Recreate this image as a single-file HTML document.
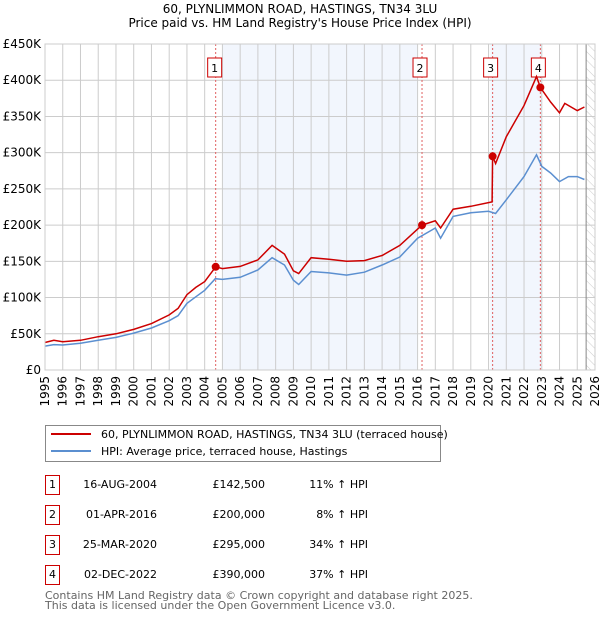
<!DOCTYPE html>
<html><head><meta charset="utf-8"><style>
body{margin:0;background:#fff;font-family:"DejaVu Sans","Liberation Sans",sans-serif;}
#wrap{position:relative;width:600px;height:620px;overflow:hidden}
.t{position:absolute;font-size:12px;color:#000;white-space:nowrap}
.box{position:absolute;width:13px;height:18px;border:1px solid #c00;font-size:11px;text-align:center;line-height:18px}
</style></head><body><div id="wrap">
<svg id="svg" width="600" height="620" style="position:absolute;left:0;top:0" font-family="DejaVu Sans, Liberation Sans, sans-serif"></svg>
<div class="t" style="left:0;width:600px;text-align:center;top:2px">60, PLYNLIMMON ROAD, HASTINGS, TN34 3LU<br>Price paid vs. HM Land Registry's House Price Index (HPI)</div>
<div style="position:absolute;left:45px;top:425px;width:394px;height:35px;border:1px solid #888">
 <div style="position:absolute;left:5px;top:7px;width:40px;height:2px;background:#c00"></div>
 <div class="t" style="left:55px;top:0px;font-size:11px;line-height:17px">60, PLYNLIMMON ROAD, HASTINGS, TN34 3LU (terraced house)</div>
 <div style="position:absolute;left:5px;top:24px;width:40px;height:2px;background:#5b8fd0"></div>
 <div class="t" style="left:55px;top:17px;font-size:11px;line-height:17px">HPI: Average price, terraced house, Hastings</div>
</div>
<div id="tbl"></div>
<div class="t" style="left:45px;top:591px;font-size:11px;color:#666;line-height:10px">Contains HM Land Registry data © Crown copyright and database right 2025.<br>This data is licensed under the Open Government Licence v3.0.</div>
</div>
<script>
const hpiYears=[1995,1995.5,1996,1997,1998,1999,2000,2001,2002,2002.5,2003,2003.5,2004,2004.6,2005,2006,2007,2007.8,2008.5,2009,2009.3,2010,2011,2012,2013,2014,2015,2016,2017,2017.3,2018,2019,2020,2020.4,2021,2022,2022.7,2023,2023.5,2024,2024.5,2025,2025.4];
const hpiValues=[33000,35000,34500,37000,41000,45000,51000,58000,68000,75000,92000,101000,110000,126000,125000,128000,138000,155000,145000,124000,118000,136000,134000,131000,135000,145000,156000,182000,196000,182000,212000,217000,219000,216000,235000,267000,297000,281000,272000,260000,267000,267000,263000];
const ppYears=[1995,1995.5,1996,1997,1998,1999,2000,2001,2002,2002.5,2003,2003.5,2004,2004.62,2005,2006,2007,2007.8,2008.5,2009,2009.3,2010,2011,2012,2013,2014,2015,2016.25,2017,2017.3,2018,2019,2020.2,2020.23,2020.4,2021,2022,2022.7,2022.92,2023.5,2024,2024.3,2025,2025.4];
const ppValues=[38000,41000,39000,41000,46000,50000,56000,64000,76000,85000,104000,114000,122000,142500,140000,143000,152000,172000,160000,137000,133000,155000,153000,150000,151000,158000,172000,200000,206000,196000,222000,226000,232000,295000,285000,322000,365000,405000,390000,370000,355000,368000,358000,363000];
const saleYears=[2004.62,2016.25,2020.23,2022.92];
const saleValues=[142500,200000,295000,390000];
const saleDates=["16-AUG-2004","01-APR-2016","25-MAR-2020","02-DEC-2022"];
const salePrices=["£142,500","£200,000","£295,000","£390,000"];
const saleDiffs=["11% ↑ HPI","8% ↑ HPI","34% ↑ HPI","37% ↑ HPI"];
const yTicks=[0,50000,100000,150000,200000,250000,300000,350000,400000,450000];
const yTickLabels=["£0","£50K","£100K","£150K","£200K","£250K","£300K","£350K","£400K","£450K"];
const xTicks=[1995,1996,1997,1998,1999,2000,2001,2002,2003,2004,2005,2006,2007,2008,2009,2010,2011,2012,2013,2014,2015,2016,2017,2018,2019,2020,2021,2022,2023,2024,2025,2026];

const L=45,R=595,T=44,B=370;
const x=v=>L+(v-1995)/31*(R-L);
const y=v=>B-v/450000*(B-T);
const svg=document.getElementById('svg');
const NS='http://www.w3.org/2000/svg';
function mk(tag,attrs,parent){const e=document.createElementNS(NS,tag);for(const k in attrs)e.setAttribute(k,attrs[k]);(parent||svg).appendChild(e);return e;}
const shades=[[2005,2016],[2020.1,2023]];
shades.forEach((s,i)=>{const r=mk('rect',{x:x(s[0]),y:T,width:x(s[1])-x(s[0]),height:B-T,fill:'#eef3fc',opacity:0.75});

});
const defs=mk('defs',{});
const pat=mk('pattern',{id:'h',width:6,height:6,patternUnits:'userSpaceOnUse',patternTransform:'rotate(-45)'},defs);
mk('line',{x1:0,y1:0,x2:0,y2:6,stroke:'#ccc','stroke-width':1},pat);
const hr=mk('rect',{x:x(2025.5),y:T,width:R-x(2025.5),height:B-T,fill:'url(#h)'});


yTicks.forEach((v,i)=>{mk('line',{x1:L,x2:R,y1:y(v),y2:y(v),stroke:'#ccc'});
const t=mk('text',{x:L-4,y:y(v)+4,'text-anchor':'end','font-size':12,fill:'#000'});t.textContent=yTickLabels[i];

});
xTicks.forEach(v=>{mk('line',{x1:x(v),x2:x(v),y1:T,y2:B,stroke:'#ccc'});
const t=mk('text',{x:0,y:0,'text-anchor':'end','font-size':12,fill:'#000',transform:`translate(${x(v)+4},${B+6}) rotate(-90)`});t.textContent=v;

});
mk('line',{x1:x(2025.5),x2:x(2025.5),y1:T,y2:B,stroke:'#888'});
saleYears.forEach((s,i)=>{mk('line',{x1:x(s),x2:x(s),y1:T,y2:B,stroke:'#e06060','stroke-dasharray':'2,2'});
const bx=x(s)-(i==0?1:2);
const r=mk('rect',{x:bx-7,y:58,width:14,height:19,fill:'#fff',stroke:'#c00'});


const t=mk('text',{x:bx,y:72,'text-anchor':'middle','font-size':11});t.textContent=i+1;});
function path(xs,vs){return xs.map((v,i)=>(i?'L':'M')+x(v).toFixed(1)+','+y(vs[i]).toFixed(1)).join('');}
const hp=mk('path',{d:path(hpiYears,hpiValues),fill:'none',stroke:'#5b8fd0','stroke-width':1.5});


const pp=mk('path',{d:path(ppYears,ppValues),fill:'none',stroke:'#c00','stroke-width':1.5});


saleYears.forEach((s,i)=>{const c=mk('circle',{cx:x(s),cy:y(saleValues[i]),r:4,fill:'#c00'});

});
mk('rect',{x:L,y:T,width:R-L,height:B-T,fill:'none',stroke:'#ccc'});
const tbl=document.getElementById('tbl');
saleDates.forEach((d,i)=>{const top=485+i*30;
const row=document.createElement('div');


row.innerHTML=`<div class="box" style="left:45px;top:${top-10}px">${i+1}</div>
<div class="t" style="right:443px;top:${top-7}px;font-size:11px">${d}</div>
<div class="t" style="right:335px;top:${top-7}px;font-size:11px">${salePrices[i]}</div>
<div class="t" style="right:232px;top:${top-7}px;font-size:11px">${saleDiffs[i]}</div>`;
tbl.appendChild(row);});
</script></body></html>
